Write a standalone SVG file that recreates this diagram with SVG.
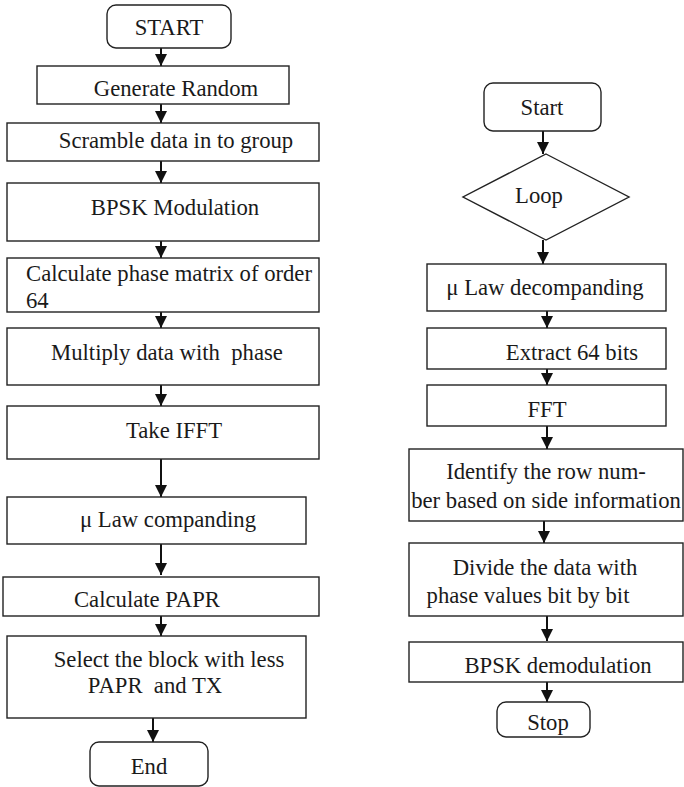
<svg xmlns="http://www.w3.org/2000/svg" width="684" height="787" viewBox="0 0 684 787">
<style>
.b{fill:#fff;stroke:#222;stroke-width:1.4}
text{font-family:'Liberation Serif','Times New Roman',serif;font-size:22.7px;fill:#1a1a1a}
.c{text-anchor:middle}
.e{stroke:#111;stroke-width:2;fill:none}
</style>
<defs>
<marker id="ah" markerUnits="userSpaceOnUse" markerWidth="12" markerHeight="12" refX="12" refY="6" orient="auto">
<path d="M0,0 L12,6 L0,12 z" fill="#111"/>
</marker>
</defs>
<rect width="684" height="787" fill="#fff"/>
<g id="connectors">
<line class="e" x1="161" y1="48" x2="161" y2="66" marker-end="url(#ah)"/>
<line class="e" x1="161" y1="104" x2="161" y2="123" marker-end="url(#ah)"/>
<line class="e" x1="161" y1="161" x2="161" y2="183" marker-end="url(#ah)"/>
<line class="e" x1="161" y1="241" x2="161" y2="258" marker-end="url(#ah)"/>
<line class="e" x1="161" y1="312" x2="161" y2="328" marker-end="url(#ah)"/>
<line class="e" x1="161" y1="385" x2="161" y2="406" marker-end="url(#ah)"/>
<line class="e" x1="161" y1="459" x2="161" y2="497" marker-end="url(#ah)"/>
<line class="e" x1="161" y1="544" x2="161" y2="575" marker-end="url(#ah)"/>
<line class="e" x1="161" y1="612" x2="161" y2="636" marker-end="url(#ah)"/>
<line class="e" x1="153" y1="718" x2="153" y2="742" marker-end="url(#ah)"/>
<line class="e" x1="543" y1="131" x2="543" y2="154" marker-end="url(#ah)"/>
<line class="e" x1="543" y1="240" x2="543" y2="264" marker-end="url(#ah)"/>
<line class="e" x1="547" y1="311" x2="547" y2="328" marker-end="url(#ah)"/>
<line class="e" x1="547" y1="369" x2="547" y2="385" marker-end="url(#ah)"/>
<line class="e" x1="547" y1="426" x2="547" y2="449" marker-end="url(#ah)"/>
<line class="e" x1="544" y1="521" x2="544" y2="543" marker-end="url(#ah)"/>
<line class="e" x1="547" y1="616" x2="547" y2="641" marker-end="url(#ah)"/>
<line class="e" x1="547" y1="682" x2="547" y2="702" marker-end="url(#ah)"/>
</g>
<g id="start"><rect class="b" x="107" y="5" width="124" height="43" rx="9"/><text class="c" x="169" y="35">START</text></g>
<g id="generate"><rect class="b" x="37" y="66" width="252" height="38"/><text class="c" x="176" y="96">Generate Random</text></g>
<g id="scramble"><rect class="b" x="7" y="123" width="312" height="38"/><text class="c" x="176" y="148">Scramble data in to group</text></g>
<g id="bpsk"><rect class="b" x="7" y="183" width="312" height="58"/><text class="c" x="175" y="215">BPSK Modulation</text></g>
<g id="phase"><rect class="b" x="7" y="258" width="312" height="54"/><text x="26" y="281">Calculate phase matrix of order</text><text x="26" y="308">64</text></g>
<g id="multiply"><rect class="b" x="7" y="328" width="312" height="57"/><text class="c" x="167" y="360" xml:space="preserve">Multiply data with  phase</text></g>
<g id="ifft"><rect class="b" x="7" y="406" width="312" height="53"/><text class="c" x="174" y="438">Take IFFT</text></g>
<g id="companding"><rect class="b" x="7" y="497" width="299" height="47"/><text class="c" x="168" y="527">μ Law companding</text></g>
<g id="papr"><rect class="b" x="3" y="577" width="316" height="39"/><text class="c" x="147" y="607">Calculate PAPR</text></g>
<g id="select"><rect class="b" x="7" y="636" width="299" height="82"/><text class="c" x="169" y="667">Select the block with less</text><text class="c" x="155" y="693" xml:space="preserve">PAPR  and TX</text></g>
<g id="end"><rect class="b" x="90" y="742" width="118" height="44" rx="9"/><text class="c" x="149" y="774">End</text></g>
<g id="rstart"><rect class="b" x="484" y="83" width="117" height="48" rx="9"/><text class="c" x="542" y="115">Start</text></g>
<g id="loop"><polygon class="b" points="546,154 629,197 546,240 463,197"/><text class="c" x="539" y="203">Loop</text></g>
<g id="decompanding"><rect class="b" x="427" y="264" width="239" height="47"/><text class="c" x="545" y="295">μ Law decompanding</text></g>
<g id="extract"><rect class="b" x="427" y="328" width="239" height="41"/><text class="c" x="572" y="360">Extract 64 bits</text></g>
<g id="fft"><rect class="b" x="427" y="385" width="239" height="41"/><text class="c" x="547" y="417">FFT</text></g>
<g id="identify"><rect class="b" x="409" y="449" width="274" height="72"/><text class="c" x="546" y="479">Identify the row num-</text><text class="c" x="546" y="508">ber based on side information</text></g>
<g id="divide"><rect class="b" x="409" y="543" width="274" height="73"/><text class="c" x="545" y="575">Divide the data with</text><text class="c" x="528" y="603">phase values bit by bit</text></g>
<g id="demod"><rect class="b" x="409" y="642" width="274" height="40"/><text class="c" x="558" y="673">BPSK demodulation</text></g>
<g id="stop"><rect class="b" x="497" y="702" width="93" height="35" rx="9"/><text class="c" x="548" y="730">Stop</text></g>
</svg>
